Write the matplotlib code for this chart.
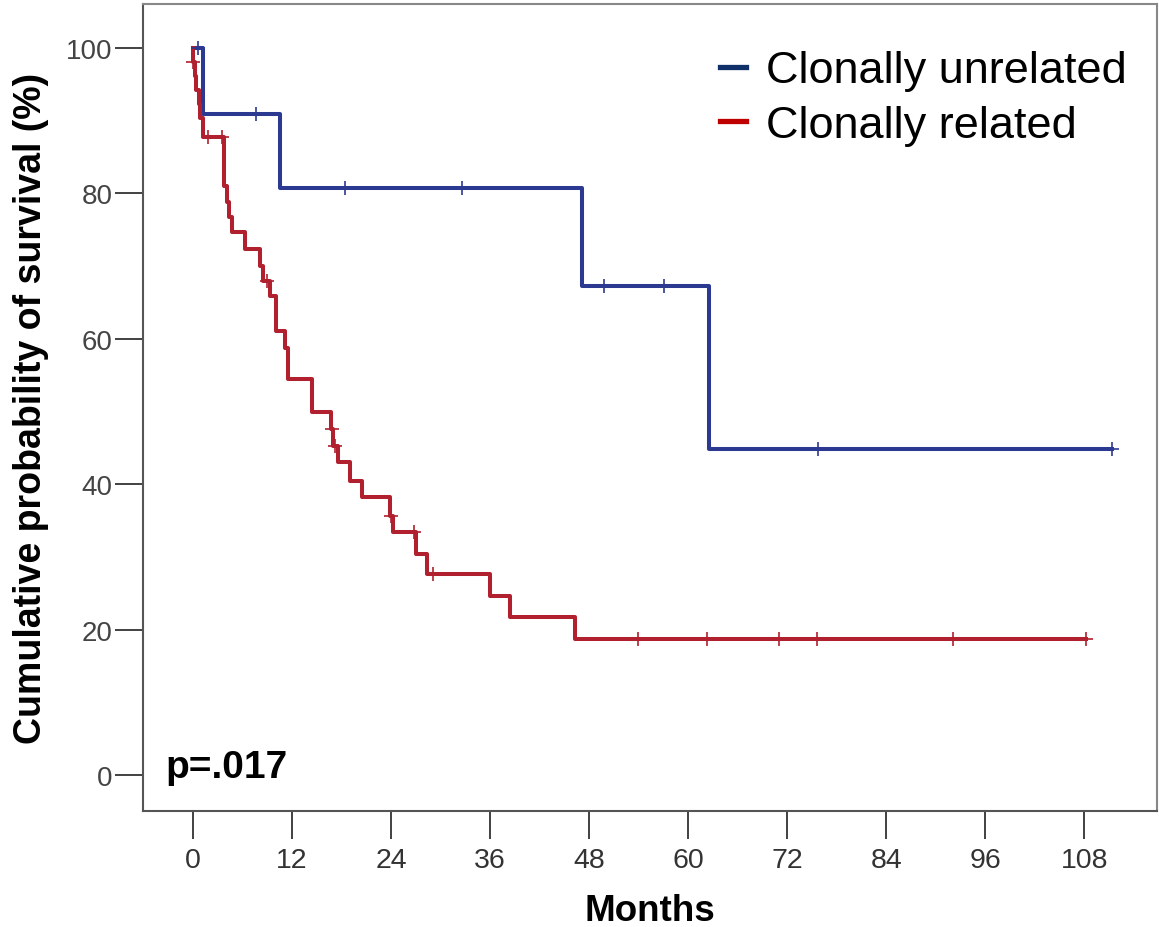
import matplotlib
matplotlib.use("Agg")
import matplotlib.pyplot as plt
from matplotlib.lines import Line2D

# ---- data (months, cumulative survival %) ----
blue_event_t = [0, 1.2, 10.6, 47.1, 62.5, 111.3]
blue_event_s = [100, 90.9, 80.8, 67.3, 44.9, 44.9]
blue_cens_t = [0.6, 7.6, 18.4, 32.6, 49.8, 57.1, 75.7, 111.3]
blue_cens_s = [100, 90.9, 80.8, 80.8, 67.3, 67.3, 44.9, 44.9]

red_event_t = [0, 0.0, 0.2, 0.4, 0.7, 0.9, 1.2, 3.7, 4.1, 4.4, 4.7, 6.3, 8.1, 8.5,
               9.3, 10.0, 11.1, 11.5, 14.4, 16.7, 17.0, 17.6, 19.0, 20.5, 23.9,
               24.2, 27.0, 28.3, 36.0, 38.4, 46.3, 108.2]
red_event_s = [100, 98.1, 96.2, 94.2, 92.3, 90.4, 87.8, 81.0, 78.8, 76.8, 74.7, 72.4,
               70.0, 67.9, 65.9, 61.1, 58.8, 54.5, 49.9, 47.6, 45.3, 43.1, 40.4, 38.2,
               35.6, 33.4, 30.4, 27.6, 24.6, 21.7, 18.7, 18.7]
red_cens_t = [0.0, 1.8, 3.5, 9.0, 16.9, 17.2, 24.0, 26.8, 29.1, 53.9, 62.3, 71.0,
              75.6, 92.1, 108.2]
red_cens_s = [98.1, 87.8, 87.8, 67.9, 47.6, 45.3, 35.6, 33.4, 27.6, 18.7, 18.7, 18.7,
              18.7, 18.7, 18.7]

x_ticks = [0, 12, 24, 36, 48, 60, 72, 84, 96, 108]
y_ticks = [0, 20, 40, 60, 80, 100]
series_labels = ["Clonally unrelated", "Clonally related"]
p_text = "p=.017"

blue = "#2b3990"
red = "#b0202e"
FAM = ["Liberation Sans", "DejaVu Sans"]

fig = plt.figure(figsize=(11.59, 9.28), dpi=100)
ax = fig.add_axes([143/1159, 1-812/928, (1157-143)/1159, (812-5)/928])

ax.step(blue_event_t, blue_event_s, where="post", color=blue, lw=2.9, zorder=3)
ax.step(red_event_t, red_event_s, where="post", color=red, lw=2.9, zorder=3)
ax.plot(blue_cens_t, blue_cens_s, ls="none", marker="+", ms=10, mew=1.2, color=blue, zorder=4)
ax.plot(red_cens_t, red_cens_s, ls="none", marker="+", ms=10, mew=1.2, color=red, zorder=4)

ax.set_xlim(-6.06, 116.8)
ax.set_ylim(-4.95, 106.05)
ax.set_xticks(x_ticks)
ax.set_yticks(y_ticks)
ax.set_xticklabels([str(v) for v in x_ticks], fontsize=20.5, color="#333333", family=FAM)
ax.set_yticklabels([str(v) for v in y_ticks], fontsize=20, color="#444444", family=FAM)
ax.tick_params(axis="both", direction="out", length=20, width=1.3, color="#333333")
ax.tick_params(axis="x", pad=6)
ax.tick_params(axis="y", pad=2)

for side, sp in ax.spines.items():
    sp.set_color("#555555")
    sp.set_linewidth(1.5)
ax.spines["top"].set_color("#888888")
ax.spines["right"].set_color("#888888")

ax.set_xlabel("Months", fontsize=26.5, fontweight="bold", labelpad=14, family=FAM)
ax.set_ylabel("Cumulative probability of survival (%)", fontsize=27, fontweight="bold",
              labelpad=12, family=FAM)

ax.text(0.022, 0.055, p_text, transform=ax.transAxes, fontsize=28, fontweight="bold",
        family=FAM, va="center", ha="left")

handles = [Line2D([0], [0], color="#10306a", lw=3.8),
           Line2D([0], [0], color="#c00000", lw=3.8)]
leg = ax.legend(handles, series_labels, loc="upper right", frameon=False,
                prop={"family": FAM, "size": 32.5},
                handlelength=0.56, handletextpad=0.45, labelspacing=0.3,
                bbox_to_anchor=(0.988, 0.965), borderaxespad=0)

fig.savefig("out.png", dpi=100)
